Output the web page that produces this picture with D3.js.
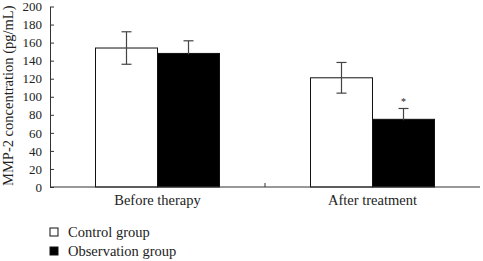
<!DOCTYPE html>
<html>
<head>
<meta charset="utf-8">
<script src="https://cdn.jsdelivr.net/npm/d3@7"></script>
<style>
  body { margin: 0; background: #fff; }
  text { font-family: 'Liberation Serif', 'DejaVu Serif', serif; fill: #222; }
</style>
</head>
<body>
<div id="chart"></div>
<script>
const categories = ['Before therapy', 'After treatment']
const groups = ['Control group', 'Observation group']
const controlMeans = [154, 121]
const controlErrors = [18, 17]
const observationMeans = [148, 75]
const observationErrors = [14, 12]
const yTicks = [0, 20, 40, 60, 80, 100, 120, 140, 160, 180, 200]
const marks = ['', '*']

const w = 483
const h = 261
const margin = { top: 6.5, right: 3, bottom: 74, left: 50 }
const width = w - margin.left - margin.right
const height = h - margin.top - margin.bottom

const svg = d3.select('#chart').append('svg')
  .attr('width', w)
  .attr('height', h)

const g = svg.append('g').attr('transform', 'translate(' + margin.left + ',' + margin.top + ')')

const x = d3.scaleBand().domain(categories).range([0, width])
const xg = d3.scaleBand().domain(groups).range([0, 124]).paddingInner(0)
const y = d3.scaleLinear().domain([0, 200]).range([height, 0])
const fills = d3.scaleOrdinal().domain(groups).range(['#fff', '#000'])

const rows = categories.map((c, i) => ({
  cat: c,
  vals: [
    { grp: groups[0], mean: controlMeans[i], err: controlErrors[i] },
    { grp: groups[1], mean: observationMeans[i], err: observationErrors[i] }
  ],
  mark: marks[i]
}))

// bars
const cat = g.selectAll('.cat').data(rows).enter().append('g')
  .attr('class', 'cat')
  .attr('transform', d => 'translate(' + (x(d.cat) + x.bandwidth() / 2 - 62) + ',0)')

cat.selectAll('rect').data(d => d.vals).enter().append('rect')
  .attr('x', d => xg(d.grp))
  .attr('y', d => y(d.mean))
  .attr('width', xg.bandwidth())
  .attr('height', d => height - y(d.mean))
  .attr('fill', d => fills(d.grp))
  .attr('stroke', '#111')
  .attr('stroke-width', 1)

// error bars
const eb = cat.selectAll('.err').data(d => d.vals).enter().append('g')
  .attr('class', 'err')
  .attr('stroke', '#444')
  .attr('stroke-width', 1.2)
eb.append('line')
  .attr('x1', d => xg(d.grp) + xg.bandwidth() / 2)
  .attr('x2', d => xg(d.grp) + xg.bandwidth() / 2)
  .attr('y1', d => y(d.mean + d.err))
  .attr('y2', d => y(d.mean - d.err))
eb.append('line')
  .attr('x1', d => xg(d.grp) + xg.bandwidth() / 2 - 5)
  .attr('x2', d => xg(d.grp) + xg.bandwidth() / 2 + 5)
  .attr('y1', d => y(d.mean + d.err))
  .attr('y2', d => y(d.mean + d.err))
eb.append('line')
  .attr('x1', d => xg(d.grp) + xg.bandwidth() / 2 - 5)
  .attr('x2', d => xg(d.grp) + xg.bandwidth() / 2 + 5)
  .attr('y1', d => y(d.mean - d.err))
  .attr('y2', d => y(d.mean - d.err))

// redraw black bar on top of lower error whisker
cat.selectAll('.cover').data(d => d.vals.filter(v => v.grp === groups[1])).enter().append('rect')
  .attr('x', d => xg(d.grp) + 1)
  .attr('y', d => y(d.mean) + 1)
  .attr('width', xg.bandwidth() - 2)
  .attr('height', d => height - y(d.mean) - 2)
  .attr('fill', '#000')

cat.append('text')
  .attr('x', xg(groups[1]) + xg.bandwidth() / 2)
  .attr('y', d => y(d.vals[1].mean + d.vals[1].err) - 3)
  .attr('text-anchor', 'middle')
  .attr('font-size', 10)
  .text(d => d.mark)

// y axis
g.append('g')
  .call(d3.axisLeft(y).tickValues(yTicks).tickSizeInner(-4).tickSizeOuter(0).tickPadding(8))
  .call(a => a.selectAll('text').attr('font-size', 13))
  .call(a => a.selectAll('line, path').attr('stroke', '#333'))

g.append('text')
  .attr('transform', 'rotate(-90)')
  .attr('x', -height / 2 + 1)
  .attr('y', -37)
  .attr('text-anchor', 'middle')
  .attr('font-size', 14.5)
  .text('MMP-2 concentration (pg/mL)')

// x axis
const xAxis = g.append('g').attr('transform', 'translate(0,' + height + ')')
xAxis.append('line')
  .attr('x1', 0).attr('x2', width)
  .attr('stroke', '#333')
xAxis.selectAll('.tk').data(categories.slice(1)).enter().append('line')
  .attr('x1', d => x(d)).attr('x2', d => x(d))
  .attr('y1', 0).attr('y2', -4)
  .attr('stroke', '#333')
xAxis.selectAll('text').data(categories).enter().append('text')
  .attr('x', d => x(d) + x.bandwidth() / 2)
  .attr('y', 18)
  .attr('text-anchor', 'middle')
  .attr('font-size', 14.5)
  .text(d => d)

// legend
const legend = svg.append('g').attr('transform', 'translate(50,228)')
const item = legend.selectAll('g').data(groups).enter().append('g')
  .attr('transform', (d, i) => 'translate(0,' + i * 19 + ')')
item.append('rect')
  .attr('width', 8).attr('height', 8)
  .attr('fill', d => fills(d))
  .attr('stroke', '#111')
item.append('text')
  .attr('x', 18).attr('y', 9)
  .attr('font-size', 14.5)
  .text(d => d)
</script>
</body>
</html>
